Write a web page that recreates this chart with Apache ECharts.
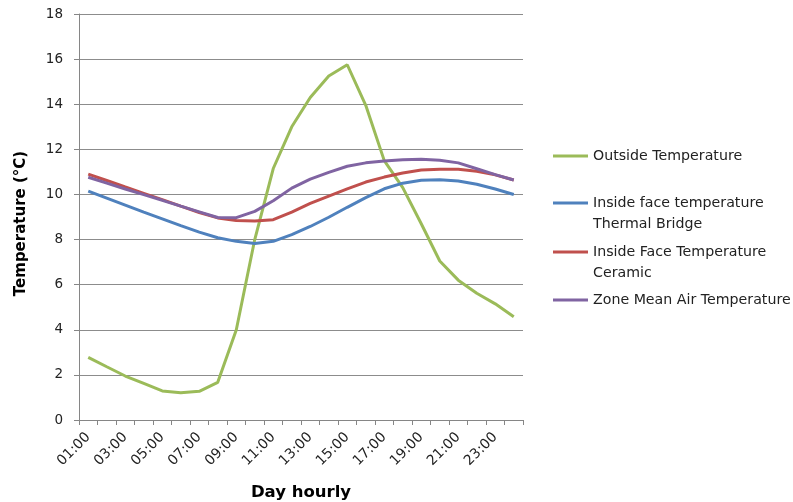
<!DOCTYPE html>
<html><head><meta charset="utf-8">
<script src="https://cdn.jsdelivr.net/npm/echarts@6/dist/echarts.min.js"></script>
<style>html,body{margin:0;padding:0;background:#fff}#c{width:793px;height:502px}</style>
</head><body><div id="c"></div>
<script>
const hours = ["01:00","02:00","03:00","04:00","05:00","06:00","07:00","08:00","09:00","10:00","11:00","12:00","13:00","14:00","15:00","16:00","17:00","18:00","19:00","20:00","21:00","22:00","23:00","24:00"];
const outsideTemp = [2.78,2.36,1.95,1.62,1.29,1.21,1.27,1.67,3.99,8.0,11.15,13.0,14.3,15.25,15.75,13.95,11.5,10.3,8.7,7.05,6.2,5.62,5.15,4.58];
const thermalBridge = [10.15,9.84,9.53,9.22,8.92,8.62,8.33,8.08,7.92,7.83,7.92,8.22,8.58,8.99,9.43,9.86,10.25,10.5,10.63,10.65,10.6,10.45,10.24,10.0];
const ceramic = [10.9,10.62,10.33,10.05,9.77,9.48,9.2,8.96,8.84,8.82,8.88,9.22,9.6,9.93,10.25,10.55,10.77,10.95,11.08,11.12,11.12,11.03,10.87,10.64];
const zoneMeanAir = [10.76,10.5,10.24,9.99,9.74,9.48,9.23,8.98,8.97,9.25,9.72,10.28,10.68,10.98,11.25,11.4,11.48,11.54,11.56,11.52,11.4,11.14,10.88,10.64];
const yTicks = {min:0, max:18, step:2};
const names = ["Outside Temperature","Inside face temperature","Inside Face Temperature","Zone Mean Air Temperature"];
const nameSecondLines = ["", "Thermal Bridge", "Ceramic", ""];
const colors = ["#9BBB59","#4F81BD","#C0504D","#8064A2"];
const seriesData = [outsideTemp, thermalBridge, ceramic, zoneMeanAir];
const yTitle = "Temperature (°C)";
const xTitle = "Day hourly";

const chart = echarts.init(document.getElementById('c'));
const legendTops = [146, 193, 242, 290];
const legendFont = {fontFamily:'DejaVu Sans', fontSize:14.2, color:'#222'};
const graphics = [];
nameSecondLines.forEach((t,i)=>{
  if (t) graphics.push({type:'text', left:593, top:legendTops[i]+21,
    style:Object.assign({text:t, lineHeight:20, fill:'#222', font:'14.2px "DejaVu Sans"'})});
});
graphics.push({type:'text', x:21, y:223.5, rotation:Math.PI/2,
  style:{text:yTitle, fill:'#000', font:'bold 15px "DejaVu Sans"', align:'center', verticalAlign:'middle'}});

chart.setOption({
  animation:false,
  backgroundColor:'#fff',
  grid:{left:79, right:270, top:14, bottom:82, containLabel:false, outerBoundsMode:'none'},
  legend: names.map((n,i)=>({
    data:[n], left:553, top:legendTops[i], orient:'vertical',
    icon:'rect', itemWidth:35, itemHeight:3, itemGap:0, padding:0,
    textStyle:Object.assign({lineHeight:20}, legendFont)
  })),
  graphic: graphics,
  xAxis:{
    type:'category', data:hours, boundaryGap:true,
    name:xTitle, nameLocation:'middle', nameGap:64,
    nameTextStyle:{fontFamily:'DejaVu Sans', fontWeight:'bold', fontSize:16.5, color:'#000'},
    axisLine:{lineStyle:{color:'#868686', width:1}},
    axisTick:{show:true, interval:0, length:5, lineStyle:{color:'#868686'}},
    axisLabel:{interval:1, rotate:45, fontFamily:'DejaVu Sans', fontSize:14, color:'#222', margin:15},
    splitLine:{show:false}
  },
  yAxis:{
    type:'value', min:yTicks.min, max:yTicks.max, interval:yTicks.step,
    axisLine:{show:true, lineStyle:{color:'#868686', width:1}},
    axisTick:{show:true, length:5, lineStyle:{color:'#868686'}},
    axisLabel:{fontFamily:'DejaVu Sans', fontSize:13.5, color:'#222', margin:16},
    splitLine:{show:true, lineStyle:{color:'#8c8c8c', width:1}}
  },
  series: names.map((n,i)=>({
    name:n, type:'line', data:seriesData[i], symbol:'none', smooth:false,
    lineStyle:{color:colors[i], width:3}, itemStyle:{color:colors[i]}
  }))
});
</script></body></html>
